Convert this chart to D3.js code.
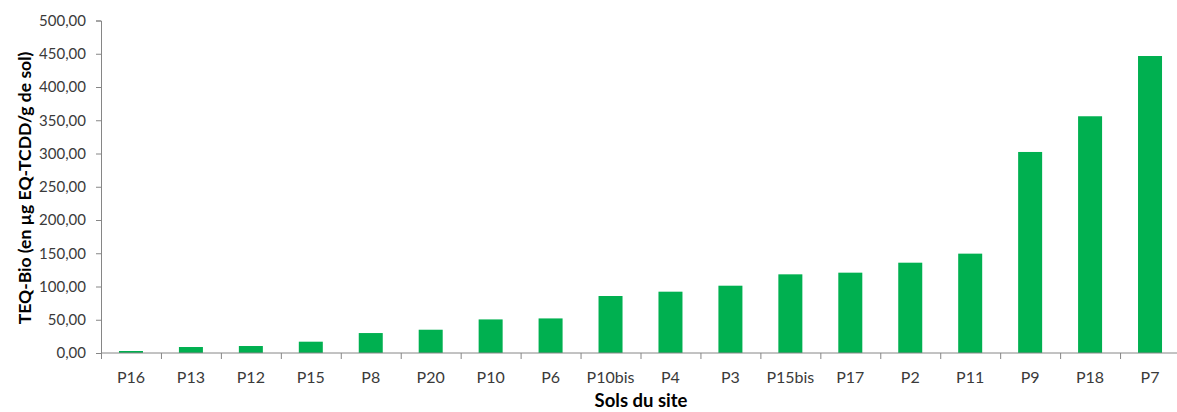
<!DOCTYPE html>
<html>
<head>
<meta charset="utf-8">
<script src="https://cdn.jsdelivr.net/npm/d3@7"></script>
<style>
  html, body { margin: 0; padding: 0; background: #fff; }
  svg { display: block; }
  .tick text { font-family: Lato, "Open Sans", sans-serif; font-size: 15px; fill: #3a3a3a; }
  .title { font-family: Lato, "Open Sans", sans-serif; font-weight: bold; fill: #000; }
</style>
</head>
<body>
<svg id="chart" width="1177" height="412"></svg>
<script>
// Sites, sorted by increasing TEQ-Bio
const sites = ["P16", "P13", "P12", "P15", "P8", "P20", "P10", "P6", "P10bis",
               "P4", "P3", "P15bis", "P17", "P2", "P11", "P9", "P18", "P7"];
// TEQ-Bio (µg EQ-TCDD / g de sol)
const teqBio = [3.0, 9.0, 10.5, 17.0, 30.0, 35.0, 50.5, 52.0, 85.7,
                92.2, 101.2, 118.3, 120.8, 135.8, 149.4, 302.3, 356.0, 446.6];
const yTicks = [0, 50, 100, 150, 200, 250, 300, 350, 400, 450, 500];

const svg = d3.select("#chart");
const axisColor = "#868686";

const xb = d3.scaleBand().domain(sites).range([101, 1180]);
const y = d3.scaleLinear().domain([0, 500]).range([353, 20.5]);

const fmt = d3.formatLocale({ decimal: ",", thousands: " ", grouping: [3], currency: ["", " €"] }).format(".2f");

// Y axis
const gy = svg.append("g").attr("transform", "translate(101,0)")
  .call(d3.axisLeft(y).tickValues(yTicks).tickFormat(fmt).tickSize(5).tickPadding(10));
gy.select(".domain").attr("stroke", axisColor);
gy.selectAll(".tick line").attr("stroke", axisColor);

// Bars
svg.append("g").selectAll("rect").data(sites).join("rect")
  .attr("x", d => xb(d) + (xb.bandwidth() - 24) / 2)
  .attr("width", 24)
  .attr("y", (d, i) => y(teqBio[i]))
  .attr("height", (d, i) => y(0) - y(teqBio[i]))
  .attr("fill", "#00B050");

// X axis: baseline and category separators
const gx = svg.append("g").attr("transform", "translate(0,353)");
gx.append("line").attr("x1", 101).attr("x2", 1180).attr("stroke", axisColor);
gx.selectAll("line.sep").data(sites.concat(["end"])).join("line")
  .attr("class", "sep")
  .attr("x1", (d, i) => 101 + i * xb.step() + 0.5)
  .attr("x2", (d, i) => 101 + i * xb.step() + 0.5)
  .attr("y1", 0).attr("y2", 6)
  .attr("stroke", axisColor);
gx.selectAll("text").data(sites).join("text")
  .attr("x", d => xb(d) + xb.bandwidth() / 2)
  .attr("y", 30)
  .attr("text-anchor", "middle")
  .style("font-family", "Lato, 'Open Sans', sans-serif")
  .style("font-size", "16px")
  .style("fill", "#3a3a3a")
  .text(d => d);

// Axis titles
svg.append("text").attr("class", "title")
  .attr("transform", "translate(25,188) rotate(-90)")
  .attr("text-anchor", "middle")
  .attr("dy", "0.35em")
  .style("font-size", "17.5px")
  .text("TEQ-Bio (en µg EQ-TCDD/g de sol)");
svg.append("text").attr("class", "title")
  .attr("x", 641).attr("y", 407)
  .attr("text-anchor", "middle")
  .style("font-size", "18.5px")
  .text("Sols du site");
</script>
</body>
</html>
